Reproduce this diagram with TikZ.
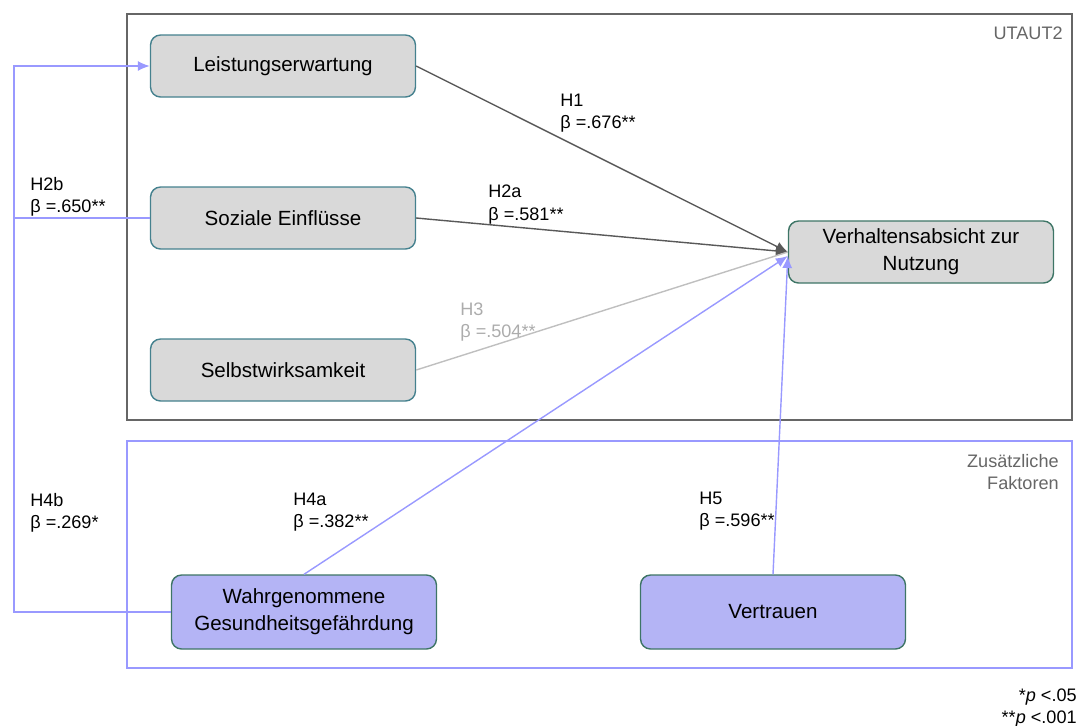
\documentclass[tikz,border=0pt]{standalone}
\usepackage{fontspec}
\setmainfont{Liberation Sans}
\usetikzlibrary{arrows.meta,positioning}
\definecolor{mygray}{HTML}{D9D9D9}
\definecolor{myteal}{HTML}{45818E}
\definecolor{mygreen}{HTML}{3E7566}
\definecolor{mylilac}{HTML}{B4B4F5}
\definecolor{myblue}{HTML}{9999FF}
\definecolor{mydark}{HTML}{595959}
\definecolor{mylight}{HTML}{BFBFBF}
\definecolor{myframe}{HTML}{666666}

\begin{document}
\begin{tikzpicture}[x=0.02cm, y=-0.02cm, >={Latex[length=2.4mm,width=2mm]},
	factor/.style={draw=myteal, fill=mygray, rounded corners=0.2cm, line width=0.8pt, minimum width=5.3cm, minimum height=1.24cm, align=center, font=\fontsize{11.7}{15.3}\selectfont},
	extra/.style={factor, draw=mygreen, fill=mylilac, minimum height=1.48cm},
	hyp/.style={anchor=north west, inner sep=0pt, align=left, font=\fontsize{10.3}{12.6}\selectfont},
	note/.style={inner sep=0pt, text=myframe, font=\fontsize{10.3}{12.6}\selectfont}]
			\useasboundingbox (0,0) rectangle (1078,725);

			% Draw the two frames
			\draw[myframe, line width=1pt] (127,14) rectangle (1072,420);
			\draw[myblue, line width=1pt] (127,441) rectangle (1072,668);
			\node[note, anchor=east] (utaut) at (1063,33) {UTAUT2};
			\node[note, anchor=north east, align=right] (zusatz) at (1059,454) {Zusätzliche\\Faktoren};

			% Draw the factors
			\node[factor] (leistung) at (283,66) {Leistungserwartung};
			\node[factor] (sozial) at (283,218) {Soziale Einflüsse};
			\node[factor] (selbst) at (283,370) {Selbstwirksamkeit};
			\node[factor, draw=mygreen] (absicht) at (921,252) {Verhaltensabsicht zur\\Nutzung};
			\node[extra] (gefahr) at (304,612) {Wahrgenommene\\Gesundheitsgefährdung};
			\node[extra] (vertrauen) at (773,612) {Vertrauen};
			\coordinate (lane) at (14,0);

			% Draw the paths
			\draw[->, mydark, line width=0.8pt] (leistung.east) -- (absicht.west);
			\draw[->, mydark, line width=0.8pt] (sozial.east) -- (absicht.west);
			\draw[mylight, line width=0.8pt] (selbst.east) -- (absicht.west);
			\draw[->, myblue, line width=0.8pt] (gefahr.north) -- ([yshift=-0.08cm]absicht.west);
			\draw[->, myblue, line width=0.8pt] (vertrauen.north) -- ([yshift=-0.08cm]absicht.west);
			\draw[->, myblue, line width=0.8pt] (gefahr.west) -- (gefahr.west -| lane) -- (leistung.west -| lane) -- (leistung.west);
			\draw[myblue, line width=0.8pt] (sozial.west) -- (sozial.west -| lane);

			% Label the hypotheses
			\node[hyp] (h1) at (560,94) {H1\\β =.676**};
			\node[hyp] (h2a) at (488,185) {H2a\\β =.581**};
			\node[hyp, text=mylight!90!black] (h3) at (460,302) {H3\\β =.504**};
			\node[hyp] (h2b) at (30,177) {H2b\\β =.650**};
			\node[hyp] (h4b) at (30,493) {H4b\\β =.269*};
			\node[hyp] (h4a) at (293,493) {H4a\\β =.382**};
			\node[hyp] (h5) at (699,492) {H5\\β =.596**};

			% Put the significance levels
			\node[note, text=black, anchor=base east] (sig1) at (1077,701) {*\textit{p} <.05};
			\node[note, text=black, anchor=base east] (sig2) at (1077,723) {**\textit{p} <.001};
		\end{tikzpicture}
\end{document}
